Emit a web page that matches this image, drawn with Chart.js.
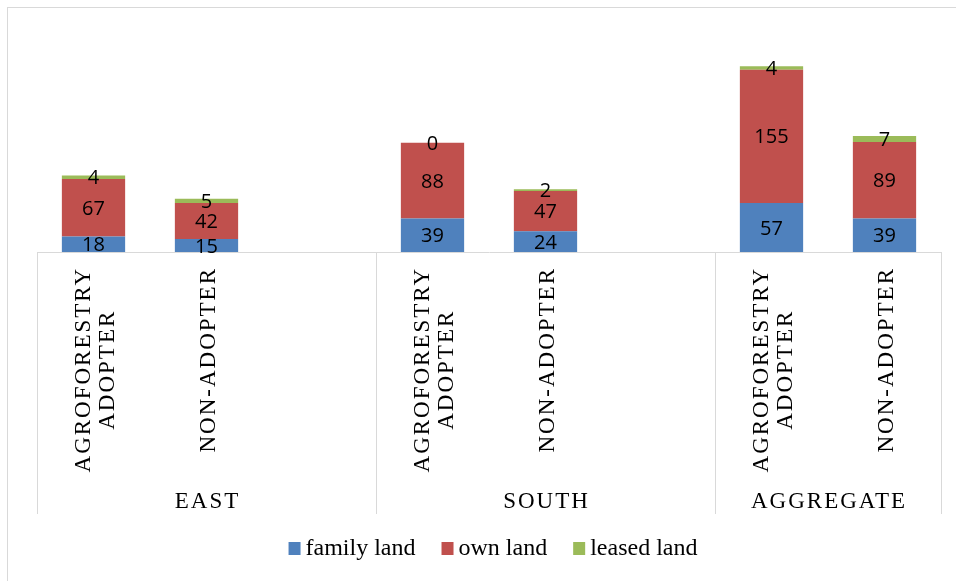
<!DOCTYPE html>
<html>
<head>
<meta charset="utf-8">
<script src="https://cdn.jsdelivr.net/npm/chart.js@4/dist/chart.umd.min.js"></script>
<style>
  html, body { margin: 0; padding: 0; background: #ffffff; }
  #wrap { width: 956px; height: 581px; position: relative; }
</style>
</head>
<body>
<div id="wrap"><canvas id="chart" width="956" height="581"></canvas></div>
<script>
// Categories along the x axis; empty entries are spacer slots between regions
const categories = [
  ['AGROFORESTRY', 'ADOPTER'], ['NON-ADOPTER'], '',
  ['AGROFORESTRY', 'ADOPTER'], ['NON-ADOPTER'], '',
  ['AGROFORESTRY', 'ADOPTER'], ['NON-ADOPTER']
];
// Region labels with the first and last category slot each one covers
const regions = ['EAST', 'SOUTH', 'AGGREGATE'];
const regionFirst = [0, 3, 6];
const regionLast = [2, 5, 7];

// Land holdings per farmer group
const familyLand = [18, 15, null, 39, 24, null, 57, 39];
const ownLand    = [67, 42, null, 88, 47, null, 155, 89];
const leasedLand = [4, 5, null, 0, 2, null, 4, 7];

const seriesNames = ['family land', 'own land', 'leased land'];
const seriesColors = ['#4F81BD', '#C0504D', '#9BBB59'];

const GRID = '#d9d9d9';
const SERIF = '"Liberation Serif", "Times New Roman", serif';
const SANS = '"Open Sans", "Noto Sans", sans-serif';

// Light outer frame around the whole figure
const framePlugin = {
  id: 'frame',
  beforeDraw(chart) {
    const ctx = chart.ctx;
    ctx.save();
    ctx.strokeStyle = GRID;
    ctx.lineWidth = 1;
    ctx.strokeRect(7.5, 7.5, 1000, 1000);
    ctx.restore();
  }
};

// Value labels centred in each stacked segment
const valueLabels = {
  id: 'valueLabels',
  afterDatasetsDraw(chart) {
    const ctx = chart.ctx;
    const size = 20;
    ctx.save();
    ctx.font = size + 'px ' + SANS;
    ctx.fillStyle = '#000000';
    ctx.textAlign = 'center';
    ctx.textBaseline = 'alphabetic';
    chart.data.datasets.forEach((ds, i) => {
      const meta = chart.getDatasetMeta(i);
      meta.data.forEach((bar, j) => {
        const v = ds.data[j];
        if (v === null || v === undefined) return;
        const p = bar.getProps(['x', 'y', 'base'], true);
        const cy = (p.y + p.base) / 2;
        ctx.fillText(String(v), p.x, cy + 0.357 * size);
      });
    });
    ctx.restore();
  }
};

// Rotated category labels, region labels, region dividers and legend
const axisDecor = {
  id: 'axisDecor',
  afterDraw(chart) {
    const ctx = chart.ctx;
    const xs = chart.scales.x;
    const area = chart.chartArea;
    const slot = (area.right - area.left) / categories.length;
    const axisY = area.bottom;
    const lowY = 514;

    ctx.save();
    // region dividers
    ctx.strokeStyle = GRID;
    ctx.lineWidth = 1;
    const edges = new Set();
    regions.forEach((r, k) => {
      edges.add(Math.round(xs.getPixelForValue(regionFirst[k]) - slot / 2));
      edges.add(Math.round(xs.getPixelForValue(regionLast[k]) + slot / 2));
    });
    edges.forEach(x => {
      ctx.beginPath();
      ctx.moveTo(x + 0.5, axisY);
      ctx.lineTo(x + 0.5, lowY);
      ctx.stroke();
    });

    // category labels, reading bottom to top
    const tickSize = 23;
    ctx.fillStyle = '#000000';
    ctx.font = tickSize + 'px ' + SERIF;
    ctx.letterSpacing = '2px';
    ctx.textBaseline = 'alphabetic';
    ctx.textAlign = 'center';
    categories.forEach((lab, i) => {
      if (!lab || !lab.length) return;
      const lines = Array.isArray(lab) ? lab : [lab];
      const cx = xs.getPixelForValue(i);
      const widths = lines.map(l => ctx.measureText(l).width - 2);
      const w = Math.max(...widths);
      const n = lines.length;
      ctx.save();
      ctx.translate(cx, 269);
      ctx.rotate(-Math.PI / 2);
      lines.forEach((l, k) => {
        const b = 8.5 + (k - (n - 1) / 2) * 24;
        ctx.fillText(l, -w / 2 + 1, b);
      });
      ctx.restore();
    });

    // region labels
    regions.forEach((r, k) => {
      const left = xs.getPixelForValue(regionFirst[k]) - slot / 2;
      const right = xs.getPixelForValue(regionLast[k]) + slot / 2;
      ctx.fillText(r, (left + right) / 2 + 1, 508);
    });

    // legend
    ctx.letterSpacing = '0px';
    ctx.font = '24px ' + SERIF;
    ctx.textAlign = 'left';
    const box = 12, gapText = 5, gapItem = 26;
    const widths = seriesNames.map(s => ctx.measureText(s).width);
    let total = 0;
    widths.forEach((w, i) => { total += box + gapText + w + (i < widths.length - 1 ? gapItem : 0); });
    let x = 493 - total / 2;
    const ly = 555;
    seriesNames.forEach((s, i) => {
      ctx.fillStyle = seriesColors[i];
      ctx.fillRect(x, ly - 13, box, 13);
      ctx.fillStyle = '#000000';
      ctx.fillText(s, x + box + gapText, ly);
      x += box + gapText + widths[i] + gapItem;
    });
    ctx.restore();
  }
};

const chart = new Chart(document.getElementById('chart'), {
  type: 'bar',
  data: {
    labels: categories,
    datasets: [
      { label: seriesNames[0], data: familyLand, backgroundColor: seriesColors[0] },
      { label: seriesNames[1], data: ownLand, backgroundColor: seriesColors[1] },
      { label: seriesNames[2], data: leasedLand, backgroundColor: seriesColors[2] }
    ]
  },
  options: {
    responsive: false,
    animation: false,
    devicePixelRatio: 1,
    layout: { padding: { left: 37, right: 15, top: 37, bottom: 0 } },
    datasets: { bar: { categoryPercentage: 1, barPercentage: 0.56, borderWidth: 0 } },
    plugins: {
      legend: { display: false },
      tooltip: { enabled: false }
    },
    scales: {
      x: {
        stacked: true,
        grid: { display: false },
        border: { display: true, color: GRID, width: 1 },
        ticks: { display: false },
        afterFit(scale) { scale.height = 329; }
      },
      y: {
        stacked: true,
        display: false,
        min: 0,
        max: 250
      }
    }
  },
  plugins: [framePlugin, valueLabels, axisDecor]
});
</script>
</body>
</html>
